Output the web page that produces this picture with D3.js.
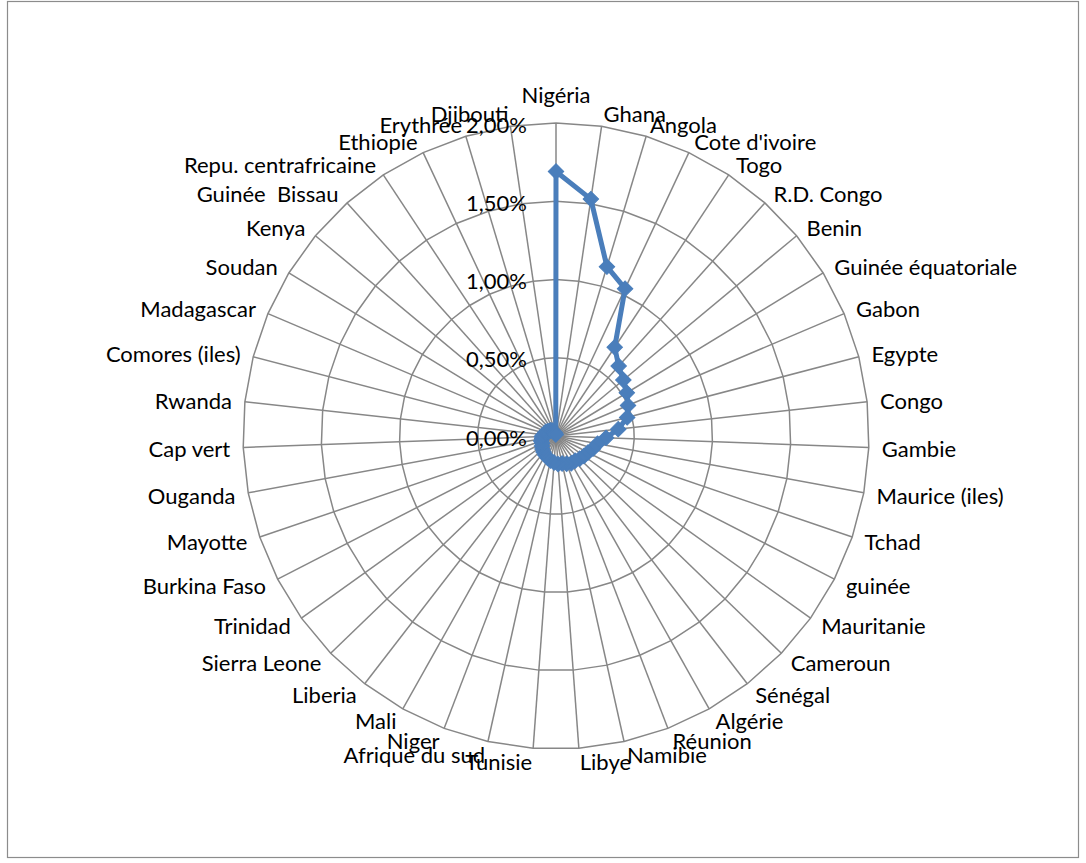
<!DOCTYPE html>
<html lang="fr">
<head>
<meta charset="utf-8">
<style>
  body { margin: 0; background: #fff; }
  text { font-family: Lato, "Open Sans", sans-serif; font-size: 22px; fill: #000; white-space: pre; }
</style>
</head>
<body>
<div id="chart"></div>
<script src="https://cdn.jsdelivr.net/npm/d3@7"></script>
<script>
// categories, clockwise from the top
const countries = ["Nigéria", "Ghana", "Angola", "Cote d'ivoire", "Togo", "R.D. Congo", "Benin",
  "Guinée équatoriale", "Gabon", "Egypte", "Congo", "Gambie", "Maurice (iles)", "Tchad", "guinée",
  "Mauritanie", "Cameroun", "Sénégal", "Algérie", "Réunion", "Namibie", "Libye", "Tunisie",
  "Afrique du sud", "Niger", "Mali", "Liberia", "Sierra Leone", "Trinidad", "Burkina Faso",
  "Mayotte", "Ouganda", "Cap vert", "Rwanda", "Comores (iles)", "Madagascar", "Soudan", "Kenya",
  "Guinée  Bissau", "Repu. centrafricaine", "Ethiopie", "Erythrée", "Djibouti"];

// share, as a fraction
const shares = [0.0169, 0.0153, 0.0113, 0.0104, 0.0068, 0.0060, 0.0056,
  0.0053, 0.0050, 0.0047, 0.0040, 0.0032, 0.0027, 0.0025, 0.0023,
  0.0022, 0.0021, 0.0020, 0.0020, 0.0019, 0.0018, 0.0018, 0.0017,
  0.0016, 0.0015, 0.0014, 0.0013, 0.0012, 0.0011, 0.0010,
  0.0010, 0.0009, 0.0009, 0.0008, 0.0007, 0.0007, 0.0006, 0.0005,
  0.0005, 0.0004, 0.0003, 0.0002, 0.0001];

const ticks = [0, 0.005, 0.01, 0.015, 0.02];
const tickLabels = ["0,00%", "0,50%", "1,00%", "1,50%", "2,00%"];

const width = 1086, height = 863;
const cx = 556, cy = 436, R = 313;
const gridColor = "#878787";
const blue = "#4a7ebb";

const svg = d3.select("#chart").append("svg")
  .attr("width", width)
  .attr("height", height);

svg.append("rect")
  .attr("x", 7.5).attr("y", 1.5)
  .attr("width", 1071).attr("height", 856)
  .attr("fill", "#fff")
  .attr("stroke", "#8c8c8c")
  .attr("stroke-width", 1.2);

const angle = d3.scaleBand()
  .domain(countries)
  .range([0, 2 * Math.PI])
  .align(0);
const r = d3.scaleLinear().domain([0, 0.02]).range([0, R]);

const g = svg.append("g").attr("transform", `translate(${cx},${cy})`);

// ring polygons
const ring = d3.lineRadial()
  .angle(d => angle(d))
  .curve(d3.curveLinearClosed);
g.selectAll(".ring")
  .data(ticks.slice(1))
  .join("path")
  .attr("d", t => ring.radius(r(t))(countries))
  .attr("fill", "none")
  .attr("stroke", gridColor)
  .attr("stroke-width", 1.5);

// spokes
g.selectAll(".spoke")
  .data(countries)
  .join("line")
  .attr("x2", d => r(0.02) * Math.sin(angle(d)))
  .attr("y2", d => -r(0.02) * Math.cos(angle(d)))
  .attr("stroke", gridColor)
  .attr("stroke-width", 1.5);

// category labels
const off = r(0.02) + 13;
g.selectAll(".cat")
  .data(countries)
  .join("text")
  .attr("x", d => off * Math.sin(angle(d)))
  .attr("y", d => {
    const s = Math.sin(angle(d));
    const y = -off * Math.cos(angle(d));
    return Math.abs(s) < 0.01 ? y - 15 : y + 1;
  })
  .attr("dy", "0.35em")
  .attr("text-anchor", d => {
    const s = Math.sin(angle(d));
    return s > 0.01 ? "start" : s < -0.01 ? "end" : "middle";
  })
  .text(d => d);

// value axis labels
g.selectAll(".tick")
  .data(ticks)
  .join("text")
  .attr("x", -29)
  .attr("y", t => -r(t) + 2)
  .attr("dy", "0.35em")
  .attr("text-anchor", "end")
  .text((t, i) => tickLabels[i]);

// series line
const line = d3.lineRadial()
  .angle((d, i) => angle(countries[i]))
  .radius(d => r(d))
  .curve(d3.curveLinearClosed);
g.append("path")
  .attr("d", line(shares))
  .attr("fill", "none")
  .attr("stroke", blue)
  .attr("stroke-width", 5)
  .attr("stroke-linejoin", "round");

// diamond markers
const diamond = d3.symbol(d3.symbolSquare, 120);
g.selectAll(".mark")
  .data(shares)
  .join("path")
  .attr("d", diamond)
  .attr("transform", (d, i) => {
    const a = angle(countries[i]);
    return `translate(${r(d) * Math.sin(a)},${-r(d) * Math.cos(a)}) rotate(45)`;
  })
  .attr("fill", blue)
  .attr("stroke", blue)
  .attr("stroke-width", 1);
</script>
</body>
</html>
